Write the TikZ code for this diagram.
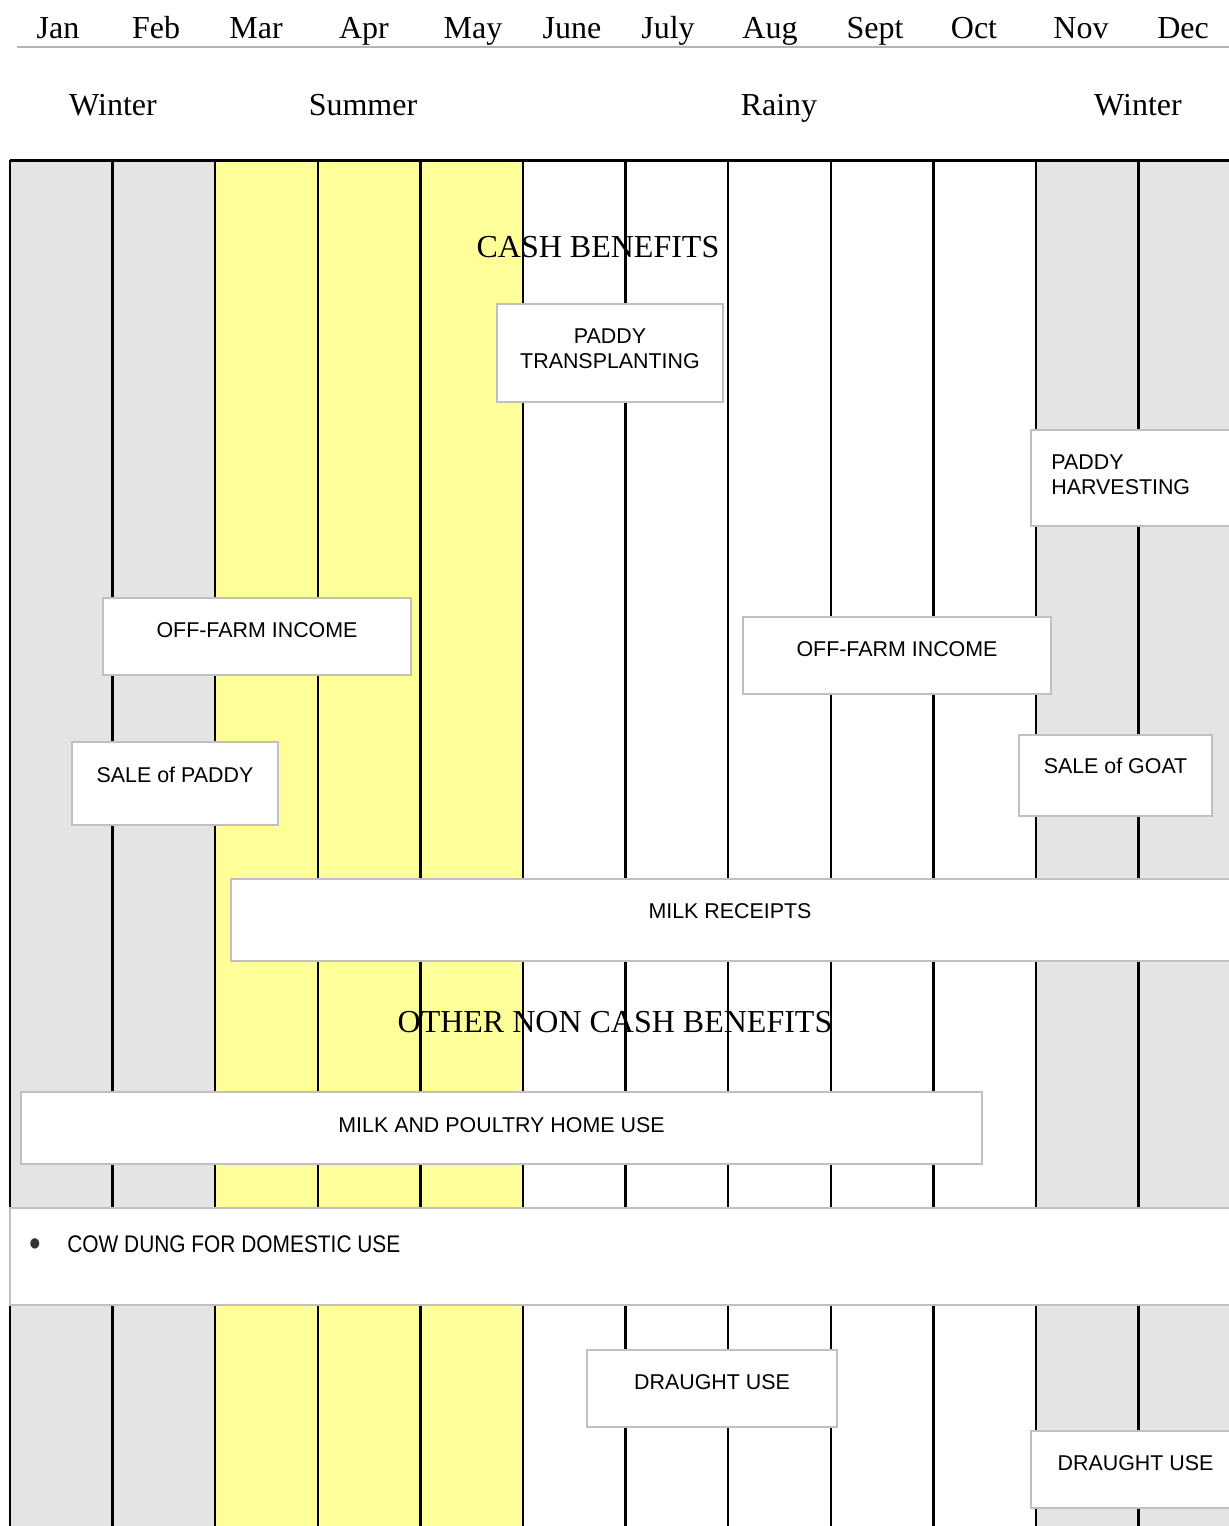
\documentclass[tikz,border=0pt]{standalone}
\usepackage{fontspec}
\setmainfont{Liberation Serif}
\newfontfamily\boxfont{Liberation Sans}
\newfontfamily\dungfont[FakeStretch=0.87]{Liberation Sans}
\definecolor{ChartGrey}{HTML}{E4E4E4}
\definecolor{ChartYellow}{HTML}{FFFF99}
\definecolor{BoxEdge}{HTML}{C0C0C0}
\definecolor{RuleGrey}{HTML}{B4B4B4}
\usetikzlibrary{positioning,fit}

\begin{document}
\begin{tikzpicture}[x=0.5pt, y=-0.5pt,
    month/.style={font=\fontsize{16}{19}\selectfont, anchor=base},
    title/.style={font=\fontsize{16}{19}\selectfont, anchor=base},
    box/.style={draw=BoxEdge, fill=white, line width=1pt, inner sep=0pt},
    intext/.style={anchor=north, inner sep=0pt, yshift=-12.5pt, align=center,
      font=\boxfont\fontsize{10.7}{12.5}\selectfont}]
  \useasboundingbox (0,0) rectangle (1229,1526);
  \clip (0,0) rectangle (1229,1526);
  % seasons as column shading
  \fill[ChartGrey] (10,160) rectangle (215,1526) (1036,160) rectangle (1240,1526);
  \fill[ChartYellow] (215,160) rectangle (523,1526);
  \foreach \k in {0,...,11}
    \draw[line width=1.2pt] ({10+102.6*\k},160) -- ({10+102.6*\k},1526);
  \draw[line width=1.5pt] (10,160) -- (1240,160);
  % header
  \draw[RuleGrey, line width=0.8pt] (17,47) -- (1229,47);
  \foreach \x/\m in {58/Jan, 156/Feb, 256/Mar, 364/Apr, 473/May, 572/June,
      668/July, 770/Aug, 875/Sept, 974/Oct, 1081/Nov, 1183/Dec}
    \node[month] (m-\m) at (\x,38) {\m};
  \foreach \x/\s/\n in {113/Winter/w1, 363/Summer/su, 779/Rainy/ra, 1138/Winter/w2}
    \node[month] (s-\n) at (\x,115) {\s};
  % cash benefits
  \node[title] (cash) at (598,257) {CASH BENEFITS};
  \node[box, fit={(497,304) (723,402)},
    label={[intext]north:{PADDY\\TRANSPLANTING}}] (transplant) {};
  \node[box, fit={(1031,430) (1240,526)},
    label={[intext, anchor=north west, xshift=10.5pt, align=left]north west:{PADDY\\HARVESTING}}] (harvest) {};
  \node[box, fit={(103,598) (411,675)},
    label={[intext]north:{OFF-FARM INCOME}}] (offfarm-a) {};
  \node[box, fit={(743,617) (1051,694)},
    label={[intext]north:{OFF-FARM INCOME}}] (offfarm-b) {};
  \node[box, fit={(72,742) (278,825)},
    label={[intext, yshift=-0.5pt]north:{SALE of PADDY}}] (salepaddy) {};
  \node[box, fit={(1019,735) (1212,816)},
    label={[intext, yshift=0.5pt]north:{SALE of GOAT}}] (salegoat) {};
  \node[box, fit={(231,879) (1240,961)},
    label={[intext, xshift=-2.75pt]north:{MILK RECEIPTS}}] (milkrec) {};
  % non cash benefits
  \node[title] (noncash) at (615,1032) {OTHER NON CASH BENEFITS};
  \node[box, fit={(21,1092) (982,1164)},
    label={[intext, yshift=-0.5pt]north:{MILK AND POULTRY HOME USE}}] (milkhome) {};
  \node[box, fit={(10,1208) (1240,1305)},
    label={[intext, anchor=north west, xshift=10pt, yshift=-1.5pt,
      font=\dungfont\fontsize{12}{14}\selectfont]north west:{\makebox[19pt][l]{\raisebox{-2.4pt}{\fontsize{19}{14}\selectfont\color{black!80}•}}COW DUNG FOR DOMESTIC USE}}] (dung) {};
  \node[box, fit={(587,1350) (837,1427)},
    label={[intext]north:{DRAUGHT USE}}] (draught-a) {};
  \node[box, fit={(1031,1431) (1240,1508)},
    label={[intext]north:{DRAUGHT USE}}] (draught-b) {};
\end{tikzpicture}
\end{document}
